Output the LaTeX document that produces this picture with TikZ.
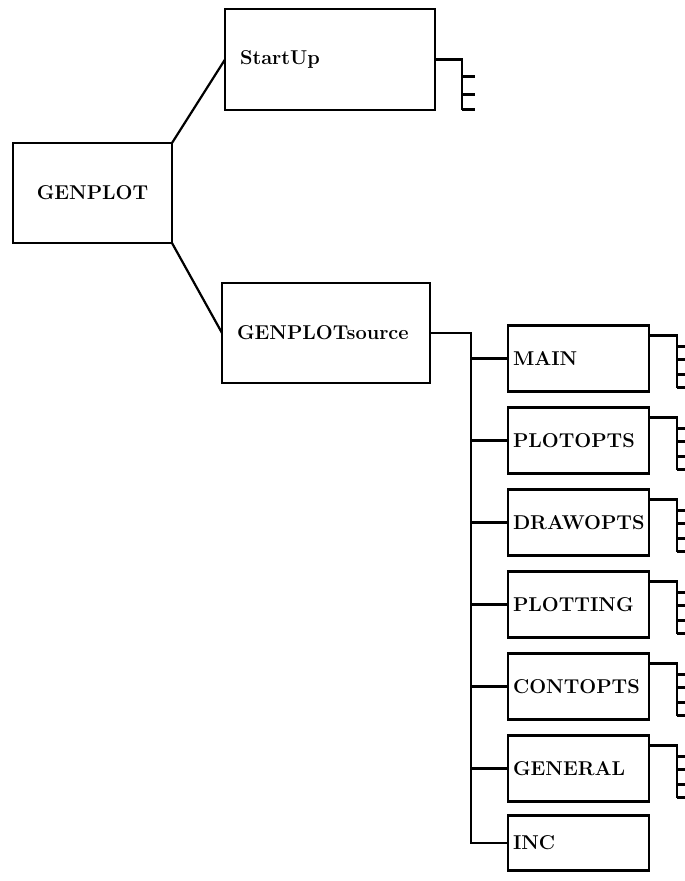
\documentclass[tikz,border=0pt]{standalone}
\usepackage{fontspec}
\usetikzlibrary{positioning}
\tikzset{
  box/.style={draw, rectangle, outer sep=0pt, font=\fontsize{20}{24}\selectfont\bfseries},
  leaf/.style={box, minimum height=66pt, text width=131pt, inner xsep=5pt, align=left},
}
\begin{document}
\begin{tikzpicture}[x=1pt, y=-1pt, line width=2.2pt, node distance=16pt]
    \useasboundingbox (0,0) rectangle (685,881);
    \clip (0,0) rectangle (685,881);

    \node (gp) [box, minimum width=159pt, minimum height=100pt] at (92.5,193) {GENPLOT};
    \node (su) [box, text width=180pt, inner xsep=15pt, minimum height=101pt, align=left] at (330,59.5) {StartUp};
    \node (src) [box, text width=178pt, inner xsep=15pt, minimum height=100pt, align=left] at (326,333) {GENPLOTsource};

    \node (main) [leaf] at (578.5,358.5) {MAIN};
    \node (plotopts) [leaf, below=of main] {PLOTOPTS};
    \node (drawopts) [leaf, below=of plotopts] {DRAWOPTS};
    \node (plotting) [leaf, below=of drawopts] {PLOTTING};
    \node (contopts) [leaf, below=of plotting] {CONTOPTS};
    \node (general) [leaf, below=of contopts] {GENERAL};
    \node (inc) [leaf, minimum height=55pt, below=14pt of general] {INC};

    \draw (gp.north east) -- (su.west);
    \draw (gp.south east) -- (src.west);
    \draw (src.east) -- ++(41,0) coordinate (trunk) |- (inc.west);
    \foreach \n in {main,plotopts,drawopts,plotting,contopts,general}
        \draw (trunk |- \n.west) -- (\n.west);

    % brackets running off the page
    \draw (su.east) -- ++(27,0) -- ++(0,50);
    \foreach \d in {17,35,50}
        \draw (su.east) ++(27,\d) -- ++(13,0);
    \foreach \n in {main,plotopts,drawopts,plotting,contopts,general} {
        \draw ([yshift=-10pt]\n.north east) -- ++(28,0) -- ++(0,52);
        \foreach \d in {11,24,39,52}
            \draw ([yshift=-10pt]\n.north east) ++(28,\d) -- ++(14,0);
    }
\end{tikzpicture}
\end{document}
